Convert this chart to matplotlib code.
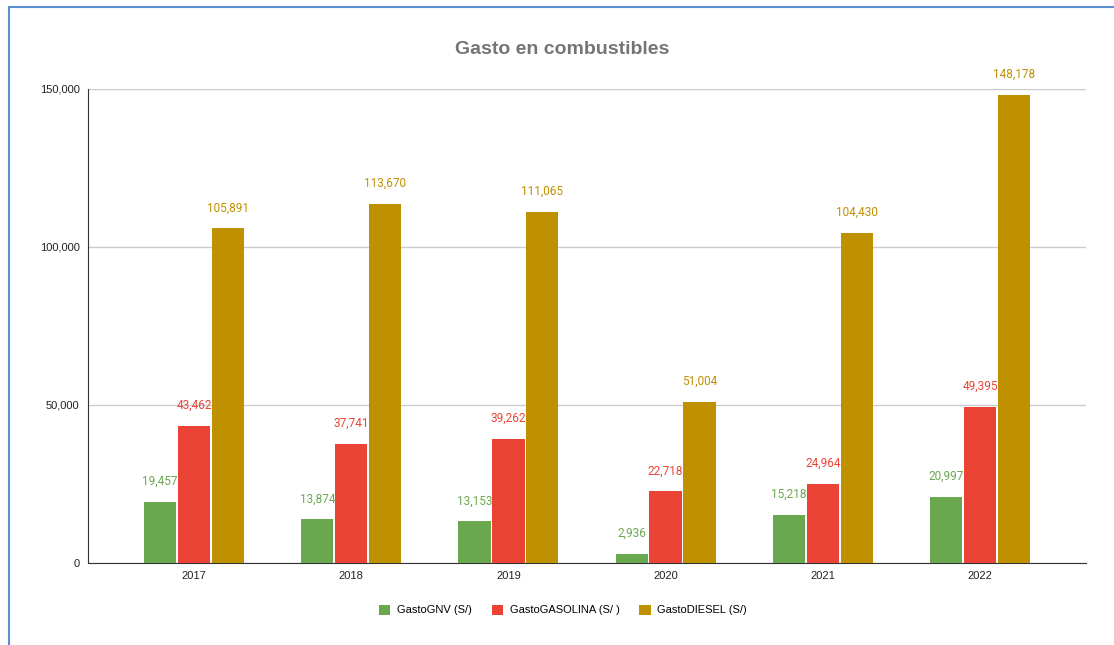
import matplotlib.pyplot as plt
import numpy as np
from matplotlib.lines import Line2D

years = ["2017", "2018", "2019", "2020", "2021", "2022"]
gasto_gnv = [19457, 13874, 13153, 2936, 15218, 20997]
gasto_gasolina = [43462, 37741, 39262, 22718, 24964, 49395]
gasto_diesel = [105891, 113670, 111065, 51004, 104430, 148178]

series = [
    ("GastoGNV (S/)", gasto_gnv, "#6aa84f"),
    ("GastoGASOLINA (S/ )", gasto_gasolina, "#ea4335"),
    ("GastoDIESEL (S/)", gasto_diesel, "#bf9000"),
]

W, H = 1114, 645
fig = plt.figure(figsize=(W / 100, H / 100), dpi=100)
ax = fig.add_axes([88 / W, 1 - 563 / H, (1086 - 88) / W, (563 - 89) / H])

x = np.arange(len(years))
bw = 0.205
step = 0.215
for i, (name, vals, col) in enumerate(series):
    pos = x + (i - 1) * step
    ax.bar(pos, vals, width=bw, color=col, label=name, zorder=3)
    for px, v in zip(pos, vals):
        ax.annotate(f"{v:,}", (px, v), xytext=(0, 10), textcoords="offset points",
                    ha="center", va="bottom", fontsize=8.5, color=col,
                    family="Roboto")

ax.set_xlim(-0.674, 5.674)
ax.set_ylim(0, 150000)
ax.set_yticks([0, 50000, 100000, 150000])
ax.set_yticklabels(["0", "50,000", "100,000", "150,000"])
ax.set_xticks(x)
ax.set_xticklabels(years)
ax.tick_params(axis="both", length=0, labelsize=8, labelcolor="#222222",
               pad=6)
for lbl in ax.get_xticklabels() + ax.get_yticklabels():
    lbl.set_family("Liberation Sans")
ax.grid(axis="y", color="#cccccc", linewidth=1, zorder=0)
for s in ("top", "right"):
    ax.spines[s].set_visible(False)
ax.spines["left"].set_color("#333333")
ax.spines["bottom"].set_color("#333333")

fig.text(562 / W, 1 - 49 / H, "Gasto en combustibles", ha="center", va="center",
         fontsize=14, fontweight="bold", color="#757575", family="Liberation Sans")

fig.legend(loc="center", bbox_to_anchor=(563 / W, 1 - 610 / H), ncol=3,
           frameon=False, handlelength=1.0, handleheight=1.0,
           columnspacing=1.8, handletextpad=0.6,
           prop={"family": "Liberation Sans", "size": 8})

# blue frame visible on the left and top of the screenshot
fig.add_artist(Line2D([9 / W, 9 / W], [0, 1 - 7 / H], transform=fig.transFigure,
                      color="#5b8fd0", linewidth=1.5))
fig.add_artist(Line2D([9 / W, 1], [1 - 7 / H, 1 - 7 / H], transform=fig.transFigure,
                      color="#5b8fd0", linewidth=1.5))

fig.savefig("out.png", dpi=100)
